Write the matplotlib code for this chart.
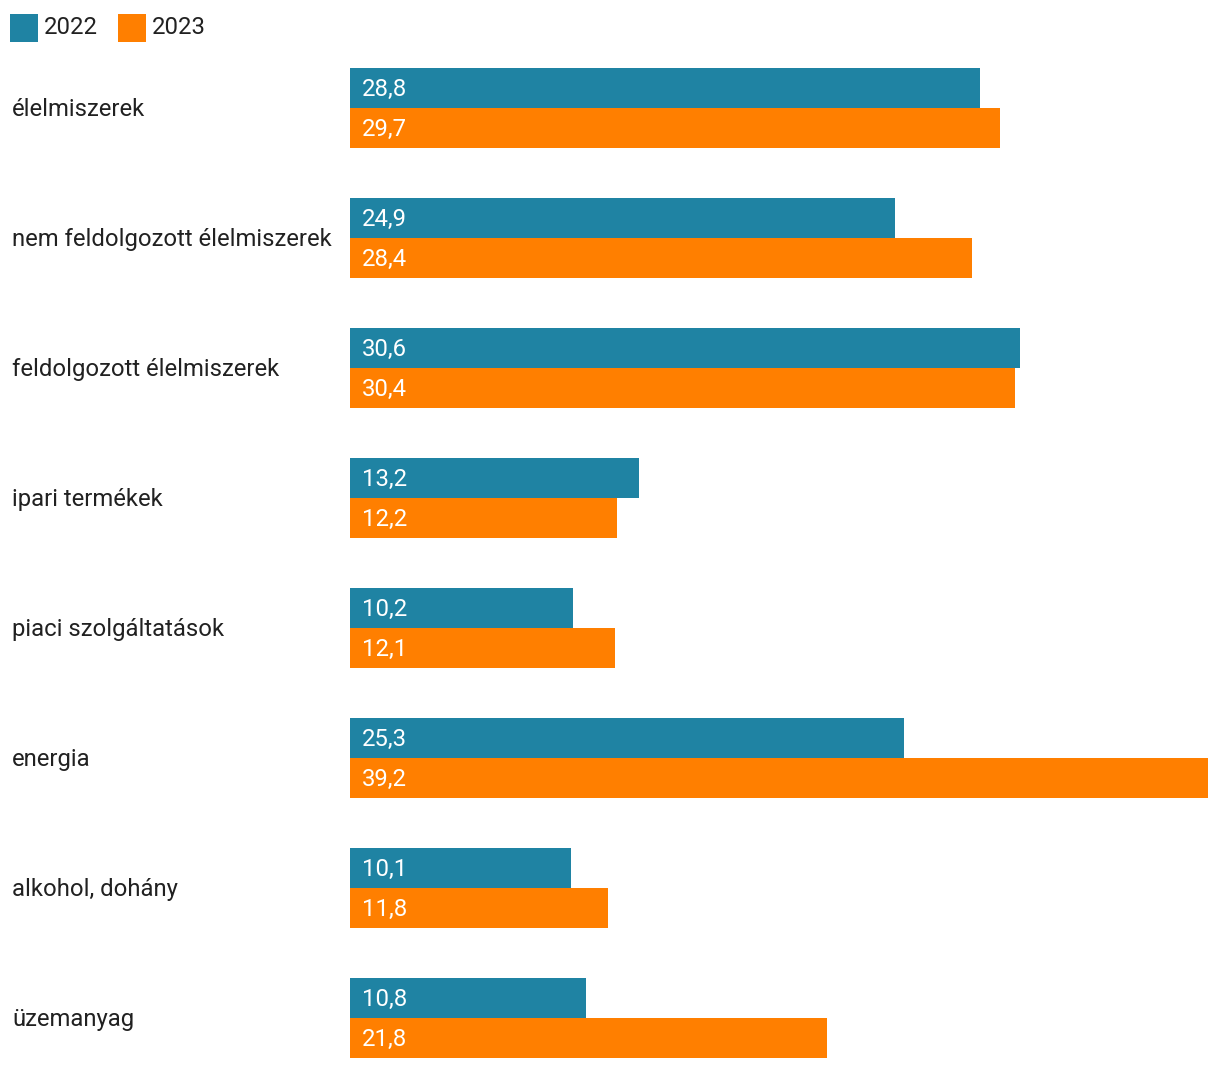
#!/usr/bin/env python3
# Hungarian inflation by product group, 2022 vs 2023 (horizontal grouped bars)

import numpy as np
import matplotlib
matplotlib.use('Agg')
import matplotlib.pyplot as plt
from matplotlib.patches import Rectangle
from matplotlib.transforms import blended_transform_factory

categories = ['élelmiszerek', 'nem feldolgozott élelmiszerek', 'feldolgozott élelmiszerek',
              'ipari termékek', 'piaci szolgáltatások', 'energia', 'alkohol, dohány', 'üzemanyag']
values_2022 = [28.8, 24.9, 30.6, 13.2, 10.2, 25.3, 10.1, 10.8]
values_2023 = [29.7, 28.4, 30.4, 12.2, 12.1, 39.2, 11.8, 21.8]
series_names = ['2022', '2023']
colors = ['#1f83a3', '#ff7f00']

plt.rcParams['font.family'] = ['Roboto', 'DejaVu Sans']

W, H = 1220, 1070
fig = plt.figure(figsize=(W / 100, H / 100), dpi=100)

# axes: bars start at x=350px, longest bar ends at 1208px; rows from 68px to 1058px
ax = fig.add_axes([350 / W, (H - 1058) / H, (1208 - 350) / W, 990 / H])
bh = 40 / 130
y = np.arange(len(categories))
ax.barh(y - bh / 2, values_2022, height=bh, color=colors[0], linewidth=0)
ax.barh(y + bh / 2, values_2023, height=bh, color=colors[1], linewidth=0)
ax.set_xlim(0, max(values_2023))
ax.set_ylim(len(categories) - 1 + bh, -bh)
ax.axis('off')

def fmt(v):
    return f'{v:.1f}'.replace('.', ',')

fs = 17.2
dy = 0.012  # nudge text down ~1.5px
for i in range(len(categories)):
    for off, vals in ((-bh / 2, values_2022), (bh / 2, values_2023)):
        ax.annotate(fmt(vals[i]), (0, i + off + dy), xytext=(8.6, 0), textcoords='offset points',
                    ha='left', va='center', color='white', fontsize=fs)

trans = blended_transform_factory(fig.transFigure, ax.transData)
for i, c in enumerate(categories):
    ax.text(12 / W, i + dy, c, transform=trans, ha='left', va='center',
            fontsize=fs, color='#212121', clip_on=False)

# legend
for k, (name, col) in enumerate(zip(series_names, colors)):
    x0 = 10 + k * 108
    fig.add_artist(Rectangle((x0 / W, (H - 42) / H), 28 / W, 28 / H,
                             transform=fig.transFigure, color=col, linewidth=0))
    fig.text((x0 + 34) / W, (H - 28) / H, name, ha='left', va='center',
             fontsize=fs, color='#212121')

fig.savefig('out.png', dpi=100)
